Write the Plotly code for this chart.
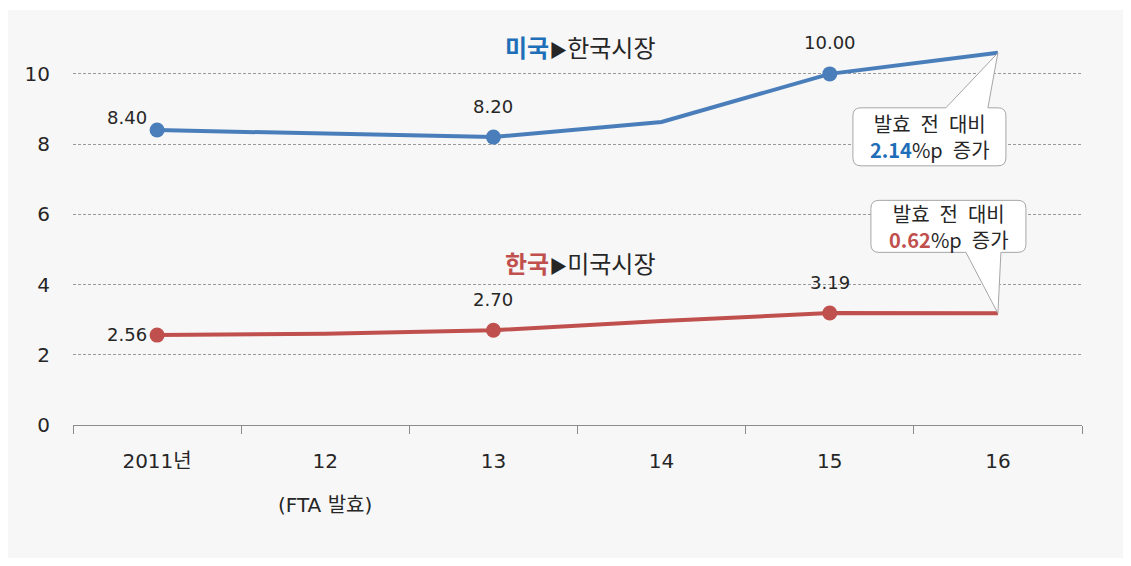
import plotly.graph_objects as go

# ---- data ----
years = ["2011년", "12", "13", "14", "15", "16"]
usa_to_korea = [8.40, 8.30, 8.20, 8.63, 10.00, 10.60]
korea_to_usa = [2.56, 2.60, 2.70, 2.96, 3.19, 3.18]
labeled_idx = [0, 2, 4]
usa_gain = "2.14"
korea_gain = "0.62"
y_ticks = [0, 2, 4, 6, 8, 10]

BLUE = "#4A7EBB"
BLUE_TXT = "#1F6FB8"
RED = "#C0504D"
RED_TXT = "#C0504D"
TXT = "#262626"
FONT = "DejaVu Sans, Noto Sans CJK KR"
KFONT = "Noto Sans CJK KR"

# page body has an 8px margin, so the figure is drawn 8px lower/right
OFF = 8
W, H = 1123, 558
ML, MT = 73 - OFF, 30 - OFF
PW, PH = 1009, 395
MR = W - ML - PW
MB = H - MT - PH
YMAX = 11.25

x_idx = list(range(len(years)))

fig = go.Figure()

for vals, col in [(usa_to_korea, BLUE), (korea_to_usa, RED)]:
    fig.add_trace(go.Scatter(x=x_idx, y=vals, mode="lines",
                             line=dict(color=col, width=4), hoverinfo="skip",
                             showlegend=False))
    fig.add_trace(go.Scatter(x=[x_idx[i] for i in labeled_idx],
                             y=[vals[i] for i in labeled_idx], mode="markers",
                             marker=dict(color=col, size=15), showlegend=False))

annotations = []
# data labels
for vals in (usa_to_korea, korea_to_usa):
    for i in labeled_idx:
        if i == 0:
            xs, ys = -30, (13 if vals is usa_to_korea else 1)
        else:
            xs, ys = 0, 31
        annotations.append(dict(x=x_idx[i], y=vals[i], text=f"{vals[i]:.2f}",
                                showarrow=False, xshift=xs, yshift=ys,
                                font=dict(size=18, color=TXT, family=FONT)))

# series titles
ARROW = "<span style='font-size:18px'>▶</span>"
annotations.append(dict(x=2.52, y=10.77, showarrow=False,
                        text=f"<b><span style='color:{BLUE_TXT}'>미국</span></b>{ARROW}한국시장",
                        font=dict(size=24, color=TXT, family=KFONT)))
annotations.append(dict(x=2.52, y=4.64, showarrow=False,
                        text=f"<b><span style='color:{RED_TXT}'>한국</span></b>{ARROW}미국시장",
                        font=dict(size=24, color=TXT, family=KFONT)))

# FTA note under "12"
annotations.append(dict(x=1, xref="x", y=-80 / PH, yref="paper", showarrow=False,
                        text="(FTA 발효)", yanchor="middle",
                        font=dict(size=20, color=TXT, family=FONT)))


def rounded_callout(x0, x1, ylo, yhi, b0, b1, top_pointer, r=8):
    """Path in pixels relative to the tip (0,0); y positive up."""
    if top_pointer:
        yb = yhi
        p = f"M {b0},{yb} L 0,0 L {b1},{yb} "
        p += f"L {x1-r},{yhi} Q {x1},{yhi} {x1},{yhi-r} "
        p += f"L {x1},{ylo+r} Q {x1},{ylo} {x1-r},{ylo} "
        p += f"L {x0+r},{ylo} Q {x0},{ylo} {x0},{ylo+r} "
        p += f"L {x0},{yhi-r} Q {x0},{yhi} {x0+r},{yhi} Z"
    else:
        yb = ylo
        p = f"M {b1},{yb} L 0,0 L {b0},{yb} "
        p += f"L {x0+r},{ylo} Q {x0},{ylo} {x0},{ylo+r} "
        p += f"L {x0},{yhi-r} Q {x0},{yhi} {x0+r},{yhi} "
        p += f"L {x1-r},{yhi} Q {x1},{yhi} {x1},{yhi-r} "
        p += f"L {x1},{ylo+r} Q {x1},{ylo} {x1-r},{ylo} Z"
    return p


SP = "\u2002"
line1 = f"발효{SP}전{SP}대비"

shapes = []
# background panel
shapes.append(dict(type="rect", xref="paper", yref="paper", layer="below",
                   x0=(6 - OFF - ML) / PW, x1=(1127 - OFF - ML) / PW,
                   y0=(H - MB - (558 - OFF)) / PH, y1=(H - MB - (10 - OFF)) / PH,
                   fillcolor="#F7F7F7", line=dict(width=0)))

# callout for US series
shapes.append(dict(type="path", xref="x", yref="y", xsizemode="pixel", ysizemode="pixel",
                   xanchor=x_idx[-1], yanchor=usa_to_korea[-1],
                   path=rounded_callout(-145, 8, -113, -55, -52, -10, True),
                   fillcolor="white", line=dict(color="#A6A6A6", width=1)))
annotations.append(dict(x=x_idx[-1], y=usa_to_korea[-1], xshift=-68, yshift=-84,
                        showarrow=False,
                        text=f"{line1}<br><b><span style='color:{BLUE_TXT}'>{usa_gain}</span></b>%p{SP}증가",
                        font=dict(size=20, color=TXT, family=KFONT)))
# callout for Korea series
shapes.append(dict(type="path", xref="x", yref="y", xsizemode="pixel", ysizemode="pixel",
                   xanchor=x_idx[-1], yanchor=korea_to_usa[-1],
                   path=rounded_callout(-127, 28, 61, 113, -32, 3, False),
                   fillcolor="white", line=dict(color="#A6A6A6", width=1)))
annotations.append(dict(x=x_idx[-1], y=korea_to_usa[-1], xshift=-49, yshift=87,
                        showarrow=False,
                        text=f"{line1}<br><b><span style='color:{RED_TXT}'>{korea_gain}</span></b>%p{SP}증가",
                        font=dict(size=20, color=TXT, family=KFONT)))

fig.update_layout(
    width=W, height=H,
    margin=dict(l=ML, r=MR, t=MT, b=MB),
    paper_bgcolor="white", plot_bgcolor="rgba(0,0,0,0)",
    showlegend=False,
    font=dict(family=FONT, color=TXT),
    annotations=annotations, shapes=shapes,
    xaxis=dict(type="linear", range=[-0.5, len(years) - 0.5],
               tickvals=x_idx, ticktext=years, showgrid=False, zeroline=False,
               showline=True, linecolor="#8C8C8C", linewidth=1,
               ticks="", tickfont=dict(size=20, color=TXT, family=FONT),
               ticklabelstandoff=18),
    yaxis=dict(range=[0, YMAX], tickvals=y_ticks, showgrid=True,
               gridcolor="#9A9A9A", griddash="3px,2px", gridwidth=1,
               zeroline=False, showline=False, ticks="",
               tickfont=dict(size=20, color=TXT, family=FONT),
               ticklabelstandoff=22),
)

fig.update_xaxes(minor=dict(tickvals=[i - 0.5 for i in range(len(years) + 1)],
                            ticks="outside", ticklen=8, tickcolor="#8C8C8C",
                            showgrid=False))

fig.write_html("out.html")
